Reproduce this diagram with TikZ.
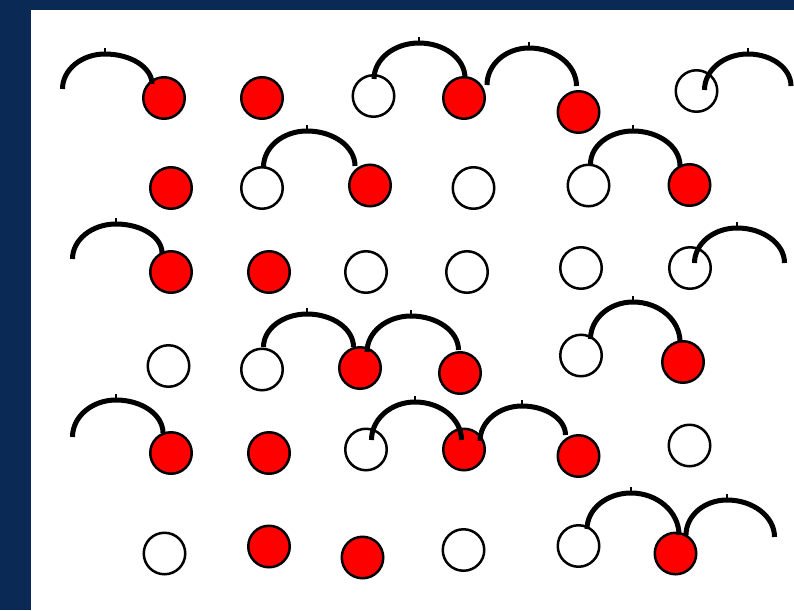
\documentclass[tikz,border=0pt]{standalone}
\usetikzlibrary{calc}
\definecolor{navy}{RGB}{10,42,85}
\definecolor{ballred}{RGB}{255,0,0}
\tikzset{
  ball/.style={circle,draw=black,line width=2.5pt,minimum size=41.5pt,inner sep=0pt,outer sep=0pt},
  rb/.style={ball,fill=ballred},
  wb/.style={ball,fill=white},
  hopline/.style={draw=black,line width=5pt,line cap=butt},
  hoptick/.style={draw=black,line width=2.4pt}
}
\newcommand\hoparc[3]{%
  \draw[hopline] let \p1=(#1),\p2=(#2),\p3=(#3) in
    (\p1) arc[start angle=180,end angle=90,x radius={\x2-\x1},y radius={\y2-\y1}]
          arc[start angle=90,end angle=0,x radius={\x3-\x2},y radius={\y2-\y3}];
  \draw[hoptick] (#2) -- ++(0,-5.8);
}
\begin{document}
\begin{tikzpicture}[x=1pt,y=-1pt]
\useasboundingbox (0,0) rectangle (794,610);
\fill[navy] (0,0) rectangle (794,610);
\fill[white] (31,10) rectangle (794,610);
% row 1
\node[rb] (a1) at (164,98) {};
\node[rb] (a2) at (262,98) {};
\node[wb] (a3) at (373.5,96) {};
\node[rb] (a4) at (464,98) {};
\node[rb] (a5) at (578.5,112) {};
\node[wb] (a6) at (696.5,91) {};
% row 2
\node[rb] (b1) at (171,188) {};
\node[wb] (b2) at (262,188) {};
\node[rb] (b3) at (370,185.5) {};
\node[wb] (b4) at (473.5,188) {};
\node[wb] (b5) at (588.5,185.5) {};
\node[rb] (b6) at (689.5,185) {};
% row 3
\node[rb] (c1) at (171,272) {};
\node[rb] (c2) at (269,272) {};
\node[wb] (c3) at (366,272) {};
\node[wb] (c4) at (467,272) {};
\node[wb] (c5) at (581,268) {};
\node[wb] (c6) at (690,268) {};
% row 4
\node[wb] (d1) at (168.5,366) {};
\node[wb] (d2) at (262,369.5) {};
\node[rb] (d3) at (360,368) {};
\node[rb] (d4) at (460,373) {};
\node[wb] (d5) at (581,355.5) {};
\node[rb] (d6) at (683,362) {};
% row 5
\node[rb] (e1) at (171,453) {};
\node[rb] (e2) at (269,453) {};
\node[wb] (e3) at (366,449.5) {};
\node[rb] (e4) at (464,449.5) {};
\node[rb] (e5) at (578.5,456) {};
\node[wb] (e6) at (689.5,445.5) {};
% row 6
\node[wb] (f1) at (164.5,553.5) {};
\node[rb] (f2) at (269,546.5) {};
\node[rb] (f3) at (362.5,557.5) {};
\node[wb] (f4) at (463.5,550) {};
\node[wb] (f5) at (578.5,546) {};
\node[rb] (f6) at (675.5,553.5) {};
% hops
\hoparc{62.5,89}{105,54}{152,84}
\hoparc{374,79}{419,43}{465,78}
\hoparc{487,85}{529,48}{576.5,86}
\hoparc{704.5,90}{748,54}{791,86}
\hoparc{263.5,167}{307,131}{355,166}
\hoparc{590.5,164}{633,131}{680,166}
\hoparc{72.5,259}{116,224}{162,253}
\hoparc{694.5,263}{737,228}{784.5,263}
\hoparc{263.5,347}{307,314}{353.5,347}
\hoparc{367,352}{411,316}{458.5,350}
\hoparc{590.5,339}{633,302}{680,342}
\hoparc{72.5,437}{116,400}{163,433}
\hoparc{371.5,440}{415,402}{461.5,440}
\hoparc{480,441}{522,406}{565.5,435}
\hoparc{587,529}{631,493}{679,535}
\hoparc{686,535}{727,500}{774.5,537}
\end{tikzpicture}
\end{document}
